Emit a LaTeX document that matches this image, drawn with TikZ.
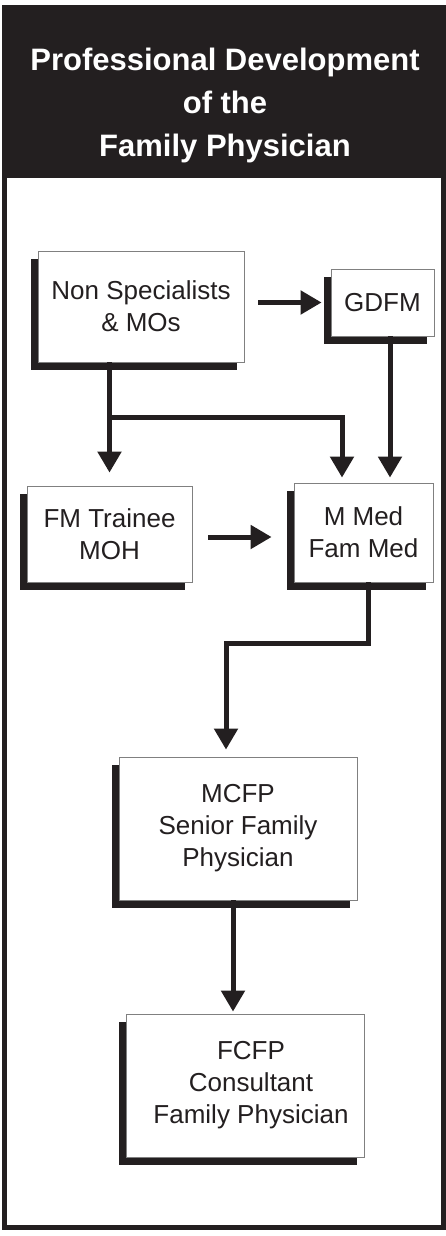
\documentclass[tikz,border=0pt]{standalone}
\usepackage{fontspec}
\setmainfont{Liberation Sans}
\usetikzlibrary{arrows.meta, shadows}
\definecolor{ink}{HTML}{231F20}

\begin{document}
\begin{tikzpicture}[x = 1pt, y = -1pt,
        box/.style = {draw = gray, fill = white, line width = 0.8pt, align = center, text = ink,
            font = \fontsize{26}{32}\selectfont,
            drop shadow = {shadow xshift = -7pt, shadow yshift = -8pt, opacity = 1, fill = ink}},
        arr/.style = {-{Triangle[length = 21pt, width = 23pt]}, line width = 5pt, draw = ink}]
        \useasboundingbox (0, 0) rectangle (446, 1236);

        % Frame and title
        \draw [line width = 5pt, draw = ink] (4.5, 7.5) rectangle (443.5, 1227.5);
        \fill [ink] (2, 5) rectangle (446, 178);
        \node [text = white, align = center, font = \fontsize{31}{43}\selectfont\bfseries] (title) at (225, 105)
            {Professional Development\\of the\\Family Physician};

        % Nodes
        \node [box, minimum width = 206pt, minimum height = 111pt] (nonspec) at (141, 306.5) {Non Specialists\\\& MOs};
        \node [box, minimum width = 103pt, minimum height = 67pt] (gdfm) at (382.5, 302.5) {GDFM};
        \node [box, minimum width = 165pt, minimum height = 96pt] (trainee) at (109.5, 534) {FM Trainee\\MOH};
        \node [box, minimum width = 139pt, minimum height = 99pt] (mmed) at (363.5, 532.5) {M Med\\Fam Med};
        \node [box, minimum width = 238pt, minimum height = 143pt] (mcfp) at (238, 828.5) {MCFP\\Senior Family\\Physician};
        \node [box, minimum width = 238pt, minimum height = 143pt] (fcfp) at (245, 1085.5) {\hspace*{12pt}FCFP\\\hspace*{12pt}Consultant\\\hspace*{12pt}Family Physician};
        \coordinate (split) at (trainee.north |- 0, 417);

        % Edges
        \draw [arr, shorten <= 14pt, shorten >= 9pt] (nonspec.east |- gdfm.west) -- (gdfm.west);
        \draw [arr, shorten >= 13pt] (trainee.north |- nonspec.south) -- (trainee.north);
        \draw [arr, shorten >= 5pt] (split) -| ([xshift = -21.5pt]mmed.north);
        \draw [arr, shorten >= 5pt] ([xshift = 7.5pt]gdfm.south) -- ([xshift = 26.5pt]mmed.north);
        \draw [arr, shorten <= 16pt, shorten >= 22pt] (trainee.east |- 0, 537) -- (mmed.west |- 0, 537);
        \draw [arr, shorten >= 7pt] ([xshift = 4.5pt]mmed.south) -- ++(0, 61) -| ([xshift = -12pt]mcfp.north);
        \draw [arr, shorten >= 2pt] ([xshift = -5pt]mcfp.south) -- ([xshift = -5pt]mcfp.south |- fcfp.north);

    \end{tikzpicture}
\end{document}
